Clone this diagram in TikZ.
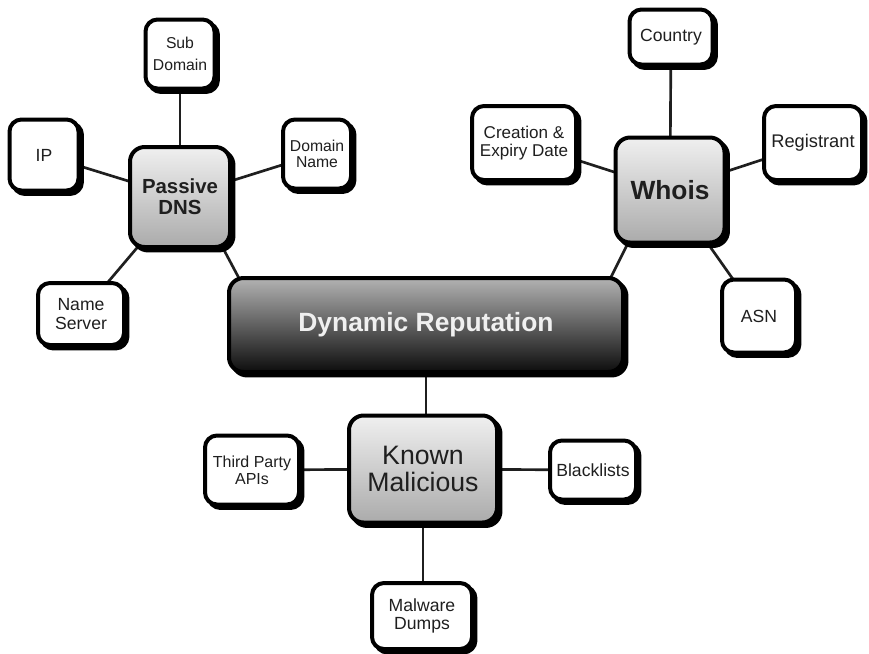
\documentclass[tikz,border=0pt]{standalone}
\usepackage{fontspec}
\setmainfont{Liberation Sans}
\usetikzlibrary{shadows,calc,backgrounds}

\tikzset{
  box/.style={draw=black, line width=3pt, align=center, inner sep=1pt,
    text=black!88,
    drop shadow={shadow xshift=2.6pt, shadow yshift=-2.6pt, fill=black,
      draw=black, line width=3pt, opacity=1}},
  leaf/.style={box, fill=white, rounded corners=9pt,
    font=\fontsize{13.2}{13.8}\selectfont},
  hub/.style={box, top color=black!6, bottom color=black!33, rounded corners=11pt},
  core/.style={box, top color=black!30, bottom color=black!95, rounded corners=11pt,
    text=black!6, font=\bfseries\fontsize{19.8}{20}\selectfont},
  link/.style={line width=2pt, black!88}
}

\begin{document}
\begin{tikzpicture}[x=0.75pt, y=-0.75pt]
  \useasboundingbox (0,0) rectangle (869,654);

  % central node
  \node[core, minimum width=295.5pt, minimum height=70.5pt] (dr) at (426,325) {Dynamic Reputation};

  % Passive DNS group
  \node[hub, minimum width=75pt, minimum height=75pt,
        font=\bfseries\fontsize{15.3}{16}\selectfont] (pdns) at (180,197) {Passive\\DNS};
  \node[leaf, minimum width=51.75pt, minimum height=51.75pt,
        font=\fontsize{11.8}{16.3}\selectfont] (sub) at (180,54) {Sub\\Domain};
  \node[leaf, minimum width=51.75pt, minimum height=53.25pt] (ip) at (44,155) {IP};
  \node[leaf, minimum width=51pt, minimum height=51.75pt,
        font=\fontsize{11.8}{12}\selectfont] (dn) at (317,154) {Domain\\Name};
  \node[leaf, minimum width=64.5pt, minimum height=46.5pt] (ns) at (81,314) {Name\\Server};

  % Whois group
  \node[hub, minimum width=81.75pt, minimum height=78.75pt,
        font=\bfseries\fontsize{19.75}{20}\selectfont] (whois) at (670,190) {Whois};
  \node[leaf, minimum width=62.25pt, minimum height=41.25pt] (country) at (671,37) {Country};
  \node[leaf, minimum width=78pt, minimum height=55.5pt,
        font=\fontsize{12.8}{13.8}\selectfont] (cre) at (524,143) {Creation \&\\Expiry Date};
  \node[leaf, minimum width=73.5pt, minimum height=55.5pt,
        font=\fontsize{13.7}{14}\selectfont] (reg) at (813,143) {Registrant};
  \node[leaf, minimum width=55.5pt, minimum height=54.75pt] (asn) at (759,316) {ASN};

  % Known Malicious group
  \node[hub, minimum width=111pt, minimum height=80.25pt,
        font=\fontsize{20}{20}\selectfont] (km) at (423,469) {Known\\Malicious};
  \node[leaf, minimum width=70.5pt, minimum height=51.75pt,
        font=\fontsize{12}{12.5}\selectfont] (tpa) at (252,470) {Third Party\\APIs};
  \node[leaf, minimum width=64.5pt, minimum height=44.25pt] (bl) at (593,470) {Blacklists};
  \node[leaf, minimum width=75pt, minimum height=49.5pt,
        font=\fontsize{13.2}{13.2}\selectfont] (mw) at (422,616) {Malware\\Dumps};

  % white page and connectors, kept behind the boxes
  \begin{pgfonlayer}{background}
    \fill[white] (0,0) rectangle (869,654);

    \draw[link] (pdns.center) -- (sub.center);
    \draw[link] (pdns.center) -- (ip.center);
    \draw[link] (pdns.center) -- (dn.center);
    \draw[link] (pdns.center) -- (ns.center);
    \draw[link] ($(pdns.south east)+(-8pt,3pt)$) -- ($(dr.north west)+(10.5pt,-4.5pt)$);

    \draw[link] (whois.center) -- (country.center);
    \draw[link] (whois.center) -- (cre.center);
    \draw[link] (whois.center) -- (reg.center);
    \draw[link] (whois.center) -- (asn.center);
    \draw[link] ($(whois.south west)+(12.4pt,4.1pt)$) -- ($(dr.north east)+(-12.75pt,-5.25pt)$);

    \draw[link] (dr.center) -- (dr.center |- km.center);
    \draw[link] (km.center) -- (tpa.center);
    \draw[link] (km.center) -- (bl.center);
    \draw[link] (km.center) -- (km.center |- mw.center);
  \end{pgfonlayer}
\end{tikzpicture}
\end{document}
